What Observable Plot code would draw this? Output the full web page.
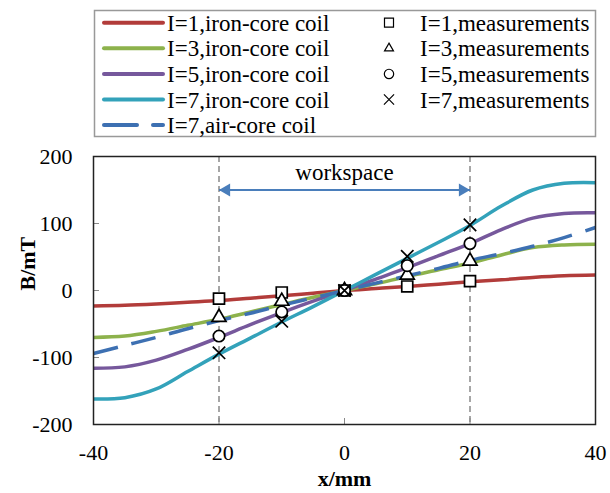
<!DOCTYPE html>
<html><head><meta charset="utf-8">
<script src="https://cdn.jsdelivr.net/npm/d3@7"></script>
<script src="https://cdn.jsdelivr.net/npm/@observablehq/plot@0.6"></script>
<style>
body{margin:0;background:#fff}
#wrap{position:relative;width:610px;height:493px;overflow:hidden}
#legend{position:absolute;left:0;top:0}
</style>
</head><body><div id="wrap"></div>
<script>
// ---- data ----
const xPositions = [-40,-35,-30,-25,-20,-15,-10,-5,0,5,10,15,20,25,30,35,40];
const ironI1 = [-23,-22,-20,-17.5,-15,-11.5,-8,-4,0,3,6,9.5,13,16,19.5,22,23];
const ironI3 = [-70,-68,-61,-52,-43,-32,-21,-10,0,10,21,31,41,53,64,68,69];
const ironI5 = [-116,-114,-104,-88,-70,-51,-33,-16,0,17,34,52,70,91,108,115,116];
const ironI7 = [-162,-160,-147,-121,-95,-71,-47,-24,0,24,48,72,97,126,150,160,161];
const airI7  = [-94,-82,-70,-57,-45,-34,-22,-11,0,11,22,33,45,55,66,79,94];

const measX  = [-20,-10,0,10,20];
const measI1 = [-12,-3,0,6,14];
const measI3 = [-40,-16,0,23,44];
const measI5 = [-68,-32,0,37,70];
const measI7 = [-93,-46,0,51,98];

const xTicks = [-40,-20,0,20,40];
const yTicks = [-200,-100,0,100,200];
const workspaceBounds = [-20,20];
const workspaceLabel = ["workspace"];
const arrowB = 150;
const labelB = 176;

const lineNames = ["I=1,iron-core coil","I=3,iron-core coil","I=5,iron-core coil","I=7,iron-core coil","I=7,air-core coil"];
const lineColors = ["#B23C3A","#8DB24C","#76589C","#33A2BA","#3D70B2"];
const markNames = ["I=1,measurements","I=3,measurements","I=5,measurements","I=7,measurements"];
const markSymbols = ["square","triangle","circle","times"];
const markR = [6.2,5.2,5.7,5.7];

// ---- build ----
const lineValues = [ironI1, ironI3, ironI5, ironI7, airI7];
const lineData = lineValues.map(v => xPositions.map((x,i) => ({x, B: v[i]})));
const measValues = [measI1, measI3, measI5, measI7];
const measData = measValues.map(v => measX.map((x,i) => ({x, B: v[i]})));

const W = 610, H = 493, mL = 93, mR = 15, mT = 156, mB = 69;
const fW = W - mL - mR, fH = H - mT - mB;

const lineMarks = lineData.map((d,k) => Plot.line(d, {
  x: "x", y: "B", stroke: lineColors[k], strokeWidth: 3.5,
  curve: "catmull-rom",
  strokeDasharray: k === 4 ? "25,14" : null,
  strokeLinecap: "butt"
}));
const dotMarks = measData.map((d,k) => Plot.dot(d, {
  x: "x", y: "B", symbol: markSymbols[k], r: markR[k],
  stroke: "#000", strokeWidth: 1.7, fill: k === 3 ? "none" : "white"
}));

const chart = Plot.plot({
  width: W, height: H,
  marginLeft: mL, marginRight: mR, marginTop: mT, marginBottom: mB,
  style: {fontFamily: "'Liberation Serif','Times New Roman',serif", fontSize: "22px", color: "#000", background: "transparent"},
  x: {domain: [-40,40]},
  y: {domain: [-200,200]},
  marks: [
    Plot.ruleX(workspaceBounds, {stroke: "#777", strokeWidth: 1.3, strokeDasharray: "6,4"}),
    Plot.tickY(yTicks, {y: d => d, stroke: "#888", strokeWidth: 1, insetRight: fW - 6}),
    Plot.tickX(xTicks, {x: d => d, stroke: "#888", strokeWidth: 1, insetTop: fH - 6}),
    Plot.axisX({ticks: xTicks, tickSize: 0, tickPadding: 20, tickFormat: d => String(d), label: null, fontSize: 22}),
    Plot.axisY({ticks: yTicks, tickSize: 0, tickPadding: 21, tickFormat: d => String(d), label: null, fontSize: 22}),
    ...lineMarks,
    Plot.frame({stroke: "#222", strokeWidth: 1.5}),
    ...dotMarks,
    Plot.link([0], {x1: workspaceBounds[0], x2: workspaceBounds[1], y1: arrowB, y2: arrowB, stroke: "#4A7EBB", strokeWidth: 2}),
    Plot.dot([workspaceBounds[0]], {x: d => d, y: arrowB, symbol: "triangle", r: 4.8, fill: "#4A7EBB", stroke: "none", rotate: -90, dx: 7.4}),
    Plot.dot([workspaceBounds[1]], {x: d => d, y: arrowB, symbol: "triangle", r: 4.8, fill: "#4A7EBB", stroke: "none", rotate: 90, dx: -7.4}),
    Plot.text(workspaceLabel, {x: 0, y: labelB, text: d => d, fontSize: 23, fill: "#000"}),
    Plot.text(["B/mT"], {frameAnchor: "left", dx: -66, rotate: -90, fontWeight: "bold", fontSize: 22, fill: "#000"}),
    Plot.text(["x/mm"], {frameAnchor: "bottom", dy: 61, fontWeight: "bold", fontSize: 22, fill: "#000"})
  ]
});
const wrap = document.getElementById("wrap");
wrap.appendChild(chart);

// ---- legend ----
const ns = "http://www.w3.org/2000/svg";
const leg = document.createElementNS(ns, "svg");
leg.setAttribute("id","legend");
leg.setAttribute("width", 610); leg.setAttribute("height", 145);
leg.style.fontFamily = "'Liberation Serif','Times New Roman',serif";
leg.style.fontSize = "23px";
function el(tag, attrs, parent) {
  const e = document.createElementNS(ns, tag);
  for (const k in attrs) e.setAttribute(k, attrs[k]);
  (parent || leg).appendChild(e);
  return e;
}
el("rect", {x: 94.5, y: 10.5, width: 501, height: 126, fill: "white", stroke: "#999", "stroke-width": 1.5});
const rowY = [22.7, 48.3, 73.9, 99.5, 125.1];
lineNames.forEach((n,k) => {
  const y = rowY[k];
  if (k === 4) {
    el("line", {x1: 104, x2: 137, y1: y, y2: y, stroke: lineColors[k], "stroke-width": 4, "stroke-linecap": "round"});
    el("line", {x1: 153, x2: 163, y1: y, y2: y, stroke: lineColors[k], "stroke-width": 4, "stroke-linecap": "round"});
  } else {
    el("line", {x1: 104, x2: 163, y1: y, y2: y, stroke: lineColors[k], "stroke-width": 4, "stroke-linecap": "round"});
  }
  const t = el("text", {x: 167, y: y + 8});
  t.textContent = n;
});
const d3sym = {square: d3.symbolSquare, triangle: d3.symbolTriangle2, circle: d3.symbolCircle, times: d3.symbolTimes};
markNames.forEach((n,k) => {
  const y = rowY[k];
  const size = Math.PI * Math.pow(markR[k] * 0.82, 2);
  el("path", {d: d3.symbol(d3sym[markSymbols[k]], size)(), transform: `translate(389,${y})`, fill: "none", stroke: "#000", "stroke-width": 1.2});
  const t = el("text", {x: 420, y: y + 8});
  t.textContent = n;
});
wrap.appendChild(leg);
</script>
</body></html>
